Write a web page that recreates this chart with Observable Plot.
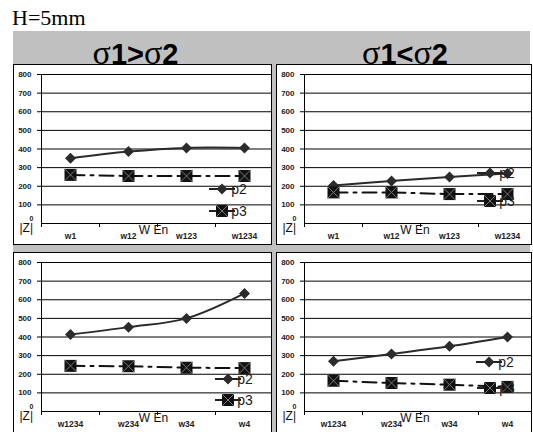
<!DOCTYPE html>
<html><head><meta charset="utf-8">
<script src="https://cdn.jsdelivr.net/npm/d3@7"></script>
<script src="https://cdn.jsdelivr.net/npm/@observablehq/plot@0.6"></script>
<style>
html,body{margin:0;padding:0;background:#fff;}
#root{position:relative;width:533px;height:432px;overflow:hidden;font-family:Arial,"Liberation Sans",sans-serif;}
#root > svg.bg{position:absolute;left:0;top:0;}
.panel{position:absolute;border:1px solid #000;overflow:hidden;background:#fff;}
.panel svg{display:block;}
</style></head><body><div id="root"></div>
<script>
// ---- data ----
const figureTitle = "H=5mm";
const columnTitles = [["σ","1>","σ","2"], ["σ","1<","σ","2"]];
const xLabelsTop = ["w1", "w12", "w123", "w1234"];
const xLabelsBottom = ["w1234", "w234", "w34", "w4"];
const seriesNames = ["p2", "p3"];
const p2TopLeft = [350, 386, 406, 406];
const p3TopLeft = [261, 255, 255, 255];
const p2TopRight = [204, 228, 250, 268];
const p3TopRight = [167, 167, 158, 158];
const p2BottomLeft = [413, 453, 500, 634];
const p3BottomLeft = [245, 243, 235, 233];
const p2BottomRight = [270, 309, 350, 400];
const p3BottomRight = [165, 153, 144, 132];
const yTicks = [100, 200, 300, 400, 500, 600, 700, 800];
const yLabel = "|Z|";
const xLabel = "W En";

// ---- layout ----
const panels = [
  {left: 14, top: 65, width: 257, p2: p2TopLeft, p3: p3TopLeft, labels: xLabelsTop, legend: [[208, 124], [208, 146]]},
  {left: 277, top: 65, width: 254, p2: p2TopRight, p3: p3TopRight, labels: xLabelsTop, legend: [[213, 108], [213, 136]]},
  {left: 14, top: 253, width: 257, p2: p2BottomLeft, p3: p3BottomLeft, labels: xLabelsBottom, legend: [[214, 126], [214, 147]]},
  {left: 277, top: 253, width: 254, p2: p2BottomRight, p3: p3BottomRight, labels: xLabelsBottom, legend: [[212, 109], [213, 135]]}
];
const PH = 179;

const root = d3.select("#root");
const bg = root.append("svg").attr("class", "bg").attr("width", 533).attr("height", 432);
bg.append("rect").attr("x", 13).attr("y", 31).attr("width", 517).attr("height", 401).attr("fill", "#c0c0c0");
bg.append("text").attr("x", 12).attr("y", 25).attr("font-family", "'Liberation Serif','Times New Roman',serif")
  .attr("font-size", 22).attr("fill", "#000").text(figureTitle);
[[135.5, columnTitles[0]], [405, columnTitles[1]]].forEach(([cx, parts]) => {
  const t = bg.append("text").attr("x", cx).attr("y", 64).attr("text-anchor", "middle").attr("fill", "#000");
  parts.forEach(p => {
    const s = t.append("tspan").text(p);
    if (p === "σ") s.attr("font-family", "'Liberation Serif','Times New Roman',serif").attr("font-size", 34);
    else s.attr("font-family", "'Liberation Sans',Arial,sans-serif").attr("font-weight", "bold").attr("font-size", 29);
  });
});

const diamondSym = {draw(ctx, size) { const r = Math.sqrt(size / Math.PI); ctx.moveTo(0, -r); ctx.lineTo(r, 0); ctx.lineTo(0, r); ctx.lineTo(-r, 0); ctx.closePath(); }};
const squareSym = {draw(ctx, size) { const r = Math.sqrt(size / Math.PI); ctx.rect(-r, -r, 2 * r, 2 * r); }};
const timesSym = {draw(ctx, size) { const r = Math.sqrt(size / Math.PI); ctx.moveTo(-r, -r); ctx.lineTo(r, r); ctx.moveTo(r, -r); ctx.lineTo(-r, r); }};

function legendMark(pos) {
  return () => {
    const g = d3.create("svg:g");
    seriesNames.forEach((name, i) => {
      const [mx, my] = pos[i];
      const row = g.append("g").attr("transform", `translate(${mx},${my})`);
      row.append("line").attr("x1", -13).attr("x2", 13).attr("stroke", "#222").attr("stroke-width", 2);
      if (i === 0) {
        row.append("path").attr("d", "M0,-5.5L5.5,0L0,5.5L-5.5,0Z").attr("fill", "#2b2b2b");
      } else {
        row.append("rect").attr("x", -6).attr("y", -6).attr("width", 12).attr("height", 12).attr("fill", "#111");
        row.append("path").attr("d", "M-6,-6L6,6M6,-6L-6,6").attr("stroke", "#777").attr("stroke-width", 1);
      }
      row.append("text").attr("x", 17).attr("y", 5).attr("font-size", 14)
        .attr("font-family", "'Liberation Sans',Arial,sans-serif").attr("fill", "#222").text(name);
    });
    return g.node();
  };
}

panels.forEach(p => {
  const p2d = p.p2.map((v, i) => ({x: i + 0.5, y: v}));
  const p3d = p.p3.map((v, i) => ({x: i + 0.5, y: v}));
  const chart = Plot.plot({
    width: p.width, height: PH,
    marginTop: 9, marginBottom: 21, marginLeft: 27, marginRight: 0,
    x: {domain: [0, 4], range: [27, 259], label: null},
    y: {domain: [0, 800], label: null},
    style: {background: "#fff", overflow: "hidden", maxWidth: "none", fontFamily: "'Liberation Sans',Arial,sans-serif", color: "#000"},
    marks: [
      Plot.ruleY([0, ...yTicks], {stroke: "#000", strokeWidth: 1}),
      Plot.ruleX([0], {stroke: "#000", strokeWidth: 1}),
      Plot.axisY({ticks: yTicks, tickSize: 4, tickPadding: 6, fontSize: 8, fontWeight: "bold", label: null, fill: "#222"}),
      Plot.text([0], {y: d => d, text: d => String(d), frameAnchor: "left", dx: -8, dy: -5, textAnchor: "end", fontSize: 7, fontWeight: "bold", fill: "#222"}),
      Plot.axisX({ticks: [0, 1, 2, 3, 4], tickSize: 4, tickFormat: () => "", label: null}),
      Plot.axisX({ticks: p.labels.map((d, i) => i + 0.5), tickSize: 0, tickPadding: 9, tickFormat: d => p.labels[Math.floor(d)], fontSize: 8.5, fontWeight: "bold", fill: "#222", label: null}),
      Plot.text([xLabel], {text: d => d, frameAnchor: "bottom", dx: -3, dy: 10, fontSize: 12, fill: "#111"}),
      Plot.text([yLabel], {text: d => d, frameAnchor: "bottom-left", dx: -22, dy: 8, fontSize: 12, fill: "#111"}),
      Plot.line(p3d, {x: "x", y: "y", stroke: "#111", strokeWidth: 2, strokeDasharray: "14,6,3,6"}),
      Plot.line(p2d, {x: "x", y: "y", stroke: "#2b2b2b", strokeWidth: 2, curve: "catmull-rom"}),
      Plot.dot(p2d, {x: "x", y: "y", symbol: diamondSym, r: 5.5, fill: "#2b2b2b", stroke: "none"}),
      Plot.dot(p3d, {x: "x", y: "y", symbol: squareSym, r: 6, fill: "#111", stroke: "none"}),
      Plot.dot(p3d, {x: "x", y: "y", symbol: timesSym, r: 6, stroke: "#777", strokeWidth: 1, fill: "none"}),
      legendMark(p.legend)
    ]
  });
  const div = root.append("div").attr("class", "panel")
    .style("left", (p.left - 1) + "px").style("top", (p.top - 1) + "px")
    .style("width", p.width + "px").style("height", PH + "px");
  div.node().appendChild(chart);
});
</script></body></html>
